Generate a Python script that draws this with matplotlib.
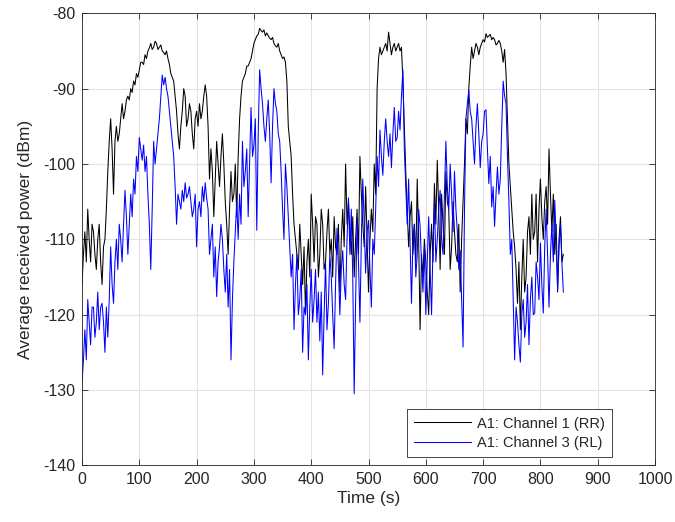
import matplotlib
matplotlib.use('Agg')
import matplotlib.pyplot as plt
import numpy as np

# values every 2.5 s (0 ... 840 s)
ch1_rr = [
    -116, -112, -109, -113, -106, -110, -113, -108, -109, -112,
    -114, -110, -108, -113, -116, -111, -110, -106, -101, -97,
    -94, -98, -104, -97, -95, -97, -96, -94, -92, -94,
    -93, -91.5, -91, -91.5, -90, -90.5, -89, -89.5, -88, -88.5,
    -87.5, -86.5, -86.5, -86.8, -85.5, -86, -85, -84.6, -84, -84.8,
    -84.5, -83.7, -84, -84.8, -84.5, -84.2, -85, -85.2, -85.5, -85,
    -86, -86.8, -88, -88.5, -89, -91, -93, -96, -98, -95,
    -93, -90, -91, -95, -94, -92, -93, -96, -98, -94,
    -93, -95, -92, -94, -93, -91, -89.5, -91, -95, -102,
    -98, -101, -107, -102, -97, -100, -103, -99, -96, -100,
    -105, -108, -112, -106, -101, -105, -104, -100, -107, -99,
    -94, -91, -89, -88.5, -88, -87, -87, -86.5, -86, -85,
    -84, -83.5, -83, -82.8, -82, -82.3, -82.5, -82.2, -83, -82.6,
    -83, -83.3, -83.5, -83.2, -84, -84.3, -84.5, -84, -85, -85.5,
    -86, -85.8, -86.5, -89, -95, -97, -99, -104, -108, -110,
    -112, -114, -108, -112, -116, -111, -120, -113, -110, -115,
    -104, -108, -113, -107, -108, -115, -112, -106, -108, -114,
    -113, -109, -106, -112, -110, -115, -107, -111, -112, -108,
    -117, -110, -106, -111, -100, -108, -105, -109, -112, -107,
    -115, -110, -106, -112, -99, -104, -108, -111, -103, -110,
    -117, -110, -106, -109, -100, -104, -90, -86, -84.5, -85.5,
    -85, -84.5, -84, -85, -82.5, -84, -85.5, -84.5, -84, -85,
    -84.5, -84, -85, -84.5, -89, -95, -101, -106, -111, -107,
    -105, -112, -108, -113, -102, -110, -122, -112, -115, -110,
    -113, -117, -120, -112, -108, -113, -102.6, -108, -99.5, -106,
    -114, -104, -108, -112, -101, -105, -106, -114, -111, -105,
    -109, -112, -113, -108, -117, -110, -105, -100, -94, -96,
    -90, -87, -84.5, -86, -85, -84, -84.5, -85.5, -84.5, -84,
    -83.5, -83.8, -82.7, -83.2, -83, -82.8, -83.5, -83.2, -83.5, -84.2,
    -84, -83.6, -84, -85, -86.5, -84.8, -88, -94, -100, -103,
    -106, -109, -111, -114, -118.5, -113, -122, -115, -110, -117,
    -115, -109, -107, -112, -104, -110, -109, -104, -113, -106,
    -102, -107, -110, -105, -103, -108, -98, -104, -109, -104,
    -112, -108, -117, -110, -107, -113, -112,
]

ch3_rl = [
    -129, -126, -122, -126, -118, -121, -124, -119, -119, -123,
    -121, -117, -122, -119, -118.5, -121, -125, -119, -123, -118,
    -111, -116, -118.5, -113, -110, -114, -108, -110, -113, -108,
    -103.5, -107, -112, -108, -104, -107, -102, -104, -99, -101,
    -96.5, -98, -99.5, -97.5, -101, -99, -104, -108, -114, -106,
    -97, -100, -98, -96, -94, -91, -88.2, -89.5, -88.5, -90,
    -91, -93, -95, -97, -99, -103, -108, -104, -105, -106,
    -103.5, -105, -102.5, -104.5, -104, -103, -105, -107, -106, -104,
    -111, -106, -105, -107, -103, -105, -102.5, -104.5, -106, -112,
    -110, -108, -115, -111, -117.6, -113, -111, -108, -110, -114,
    -117, -112, -119, -114, -126, -118, -113, -109, -105, -110,
    -104, -108, -97, -103, -101, -98, -107, -100, -92.5, -99,
    -97.5, -94, -108.8, -96, -87.5, -90, -92, -95, -97, -94,
    -91.5, -96, -102.5, -95, -90, -92, -93, -96, -97, -101,
    -106, -110, -100, -103, -107, -111, -115, -112, -122, -116,
    -112, -120, -118, -114, -125, -119, -120, -116, -126, -119,
    -114, -121, -118, -114, -121, -117, -123.5, -117, -128, -120,
    -113, -122, -118.5, -112, -115, -120, -124.5, -116, -108.5, -114,
    -120, -114, -111.5, -116, -118, -110, -104.5, -112, -106, -115,
    -130.5, -118, -107.5, -113, -121, -110, -102, -108, -114.5, -109,
    -107.5, -114, -119, -110, -112, -106, -99, -103, -95.5, -99,
    -101.5, -97, -94, -97, -99, -96, -100.5, -96, -92.5, -97,
    -96.5, -93, -95.5, -91, -87.5, -98, -103, -108, -102, -110,
    -118.5, -110, -108, -115, -112, -106, -108.3, -113, -117, -111,
    -120, -113, -107, -114, -120, -111, -105, -113, -110, -106,
    -103.5, -110, -112, -104, -97, -103, -106, -100, -104, -109,
    -101, -106, -109, -114, -111.5, -118, -124.3, -106, -94, -92,
    -90.2, -93, -94, -97, -100, -95, -92, -96, -100.5, -97,
    -96, -93, -92.8, -98, -102.6, -99, -105.7, -103, -108.3, -104,
    -100.4, -104, -102, -95, -89, -91, -92, -99, -105, -112,
    -110, -118, -126, -119, -121, -124, -126.3, -120, -118, -123,
    -121, -116, -124, -118, -115, -120, -119.8, -113, -115, -118,
    -110.5, -116, -119.8, -111, -106, -112, -119, -112, -108, -113,
    -104.8, -110, -116.7, -111, -108, -113, -117,
]

time_s = np.arange(len(ch1_rr)) * 2.5

x_ticks = list(range(0, 1001, 100))
y_ticks = list(range(-140, -79, 10))

plt.rcParams['font.family'] = ['Liberation Sans', 'DejaVu Sans']
plt.rcParams['axes.unicode_minus'] = False

fig = plt.figure(figsize=(6.75, 5.22), dpi=100)
ax = fig.add_axes([0.1215, 0.1086, 0.8489, 0.8659])

dark = '#262626'
ax.plot(time_s, ch1_rr, color='black', linewidth=0.75, label='A1: Channel 1 (RR)')
ax.plot(time_s, ch3_rl, color='#0000ff', linewidth=0.75, label='A1: Channel 3 (RL)')

ax.set_xlim(0, 1000)
ax.set_ylim(-140, -80)
ax.set_xticks(x_ticks)
ax.set_yticks(y_ticks)
ax.tick_params(direction='in', length=4, width=0.6, colors=dark, labelsize=11.5,
               top=True, right=True, pad=5)
for s in ax.spines.values():
    s.set_color(dark)
    s.set_linewidth(0.6)
ax.grid(True, color='#e3e3e3', linewidth=0.8)
ax.set_axisbelow(True)

ax.set_xlabel('Time (s)', fontsize=12.5, color=dark, labelpad=3)
ax.set_ylabel('Average received power (dBm)', fontsize=12.5, color=dark, labelpad=7)

leg = ax.legend(loc='lower right', bbox_to_anchor=(0.93, 0.012), fontsize=10.5,
                fancybox=False, framealpha=1, edgecolor=dark, borderpad=0.5,
                handlelength=3.9, labelspacing=0.35, handletextpad=0.4,
                borderaxespad=0.2)
leg.get_frame().set_linewidth(0.6)
for t in leg.get_texts():
    t.set_color(dark)

fig.savefig('out.png', dpi=100)
